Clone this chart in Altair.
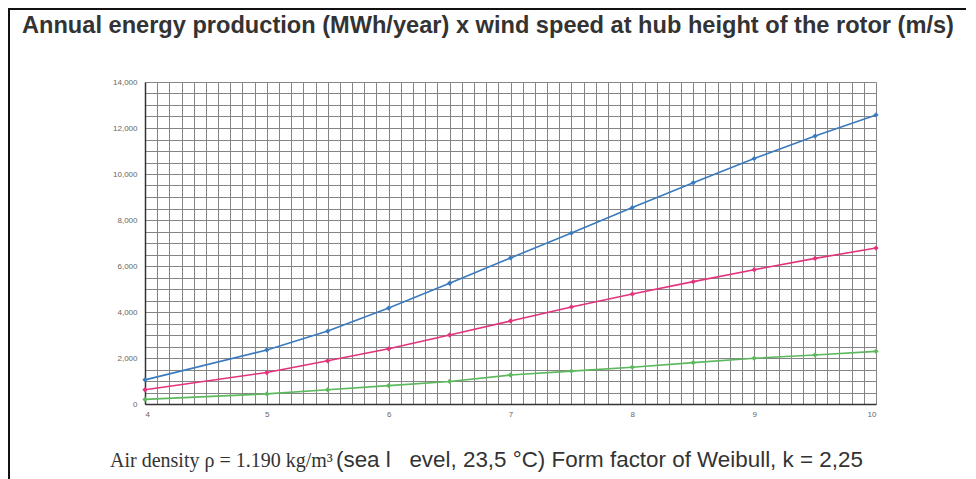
import altair as alt
import pandas as pd

wind_speed = [4, 5, 5.5, 6, 6.5, 7, 7.5, 8, 8.5, 9, 9.5, 10]
series_blue = [1050, 2350, 3170, 4170, 5250, 6350, 7430, 8540, 9620, 10670, 11650, 12570]
series_pink = [620, 1370, 1880, 2400, 3000, 3610, 4220, 4780, 5320, 5840, 6330, 6780]
series_green = [200, 440, 620, 800, 980, 1260, 1430, 1600, 1800, 1990, 2130, 2290]
series_names = ["Series 1", "Series 2", "Series 3"]
series_colors = ["#3a7bbf", "#e2337c", "#5cb85c"]

title_text = "Annual energy production (MWh/year) x wind speed at hub height of the rotor (m/s)"
note_serif = "Air density \u03c1 = 1.190 kg/m\u00b3"
note_sans = "(sea l\u00a0\u00a0 evel, 23,5 \u00b0C) Form factor of Weibull, k = 2,25"

rows = []
for name, vals in zip(series_names, [series_blue, series_pink, series_green]):
    for x, y in zip(wind_speed, vals):
        rows.append({"series": name, "speed": x, "energy": y})
df = pd.DataFrame(rows)

x_grid = [round(4 + 0.1 * i, 1) for i in range(61)]
y_grid = list(range(0, 14001, 500))

W, H = 731, 322
PL, PT = 137, 74

x_enc = alt.X(
    "speed:Q",
    scale=alt.Scale(domain=[4, 10], nice=False, zero=False),
    axis=alt.Axis(
        values=x_grid,
        labelExpr="abs(datum.value - round(datum.value)) < 0.001 ? format(datum.value, 'd') : ''",
        ticks=False,
        grid=True,
        gridColor="#858585",
        gridWidth=1,
        domainColor="#333333",
        domainWidth=1.5,
        labelFontSize=8,
        labelColor="#666666",
        labelPadding=6,
        labelFont="Liberation Sans",
        title=None,
    ),
)
y_enc = alt.Y(
    "energy:Q",
    scale=alt.Scale(domain=[0, 14000], nice=False),
    axis=alt.Axis(
        values=y_grid,
        labelExpr="datum.value % 2000 == 0 ? format(datum.value, ',') : ''",
        ticks=False,
        grid=True,
        gridColor="#858585",
        gridWidth=1,
        domainColor="#333333",
        domainWidth=1.5,
        labelFontSize=8,
        labelColor="#666666",
        labelPadding=8,
        labelFont="Liberation Sans",
        title=None,
    ),
)

color_enc = alt.Color(
    "series:N",
    scale=alt.Scale(domain=series_names, range=series_colors),
    legend=None,
)

lines = alt.Chart(df).mark_line(
    strokeWidth=1.6,
    point=alt.OverlayMarkDef(filled=True, shape="diamond", size=28),
).encode(x=x_enc, y=y_enc, color=color_enc)

title_mark = alt.Chart(pd.DataFrame({"t": [title_text]})).mark_text(
    align="left", baseline="alphabetic", font="Liberation Sans", fontSize=23.6,
    fontWeight="bold", color="#333333"
).encode(text="t:N", x=alt.value(-123), y=alt.value(-49))

note1 = alt.Chart(pd.DataFrame({"t": [note_serif]})).mark_text(
    align="left", baseline="alphabetic", font="Liberation Serif", fontSize=20, color="#333333"
).encode(text="t:N", x=alt.value(-35), y=alt.value(385))

note2 = alt.Chart(pd.DataFrame({"t": [note_sans]})).mark_text(
    align="left", baseline="alphabetic", font="Liberation Sans", fontSize=22.4, color="#333333"
).encode(text="t:N", x=alt.value(191), y=alt.value(385))

border_top = alt.Chart(pd.DataFrame({"a": [0]})).mark_rule(color="#111111", strokeWidth=2).encode(
    x=alt.value(-PL), x2=alt.value(W + 90), y=alt.value(-PT + 1)
)
border_left = alt.Chart(pd.DataFrame({"a": [0]})).mark_rule(color="#111111", strokeWidth=2).encode(
    x=alt.value(-PL + 1), y=alt.value(-PT), y2=alt.value(H + 90)
)

chart = alt.layer(lines, title_mark, note1, note2, border_top, border_left).properties(
    width=W,
    height=H,
    autosize=alt.AutoSizeParams(type="none"),
    padding={"left": PL, "top": PT, "right": 92, "bottom": 75},
).configure_view(stroke=None)

chart.save("out.html", embed_options={"renderer": "svg", "actions": False})
